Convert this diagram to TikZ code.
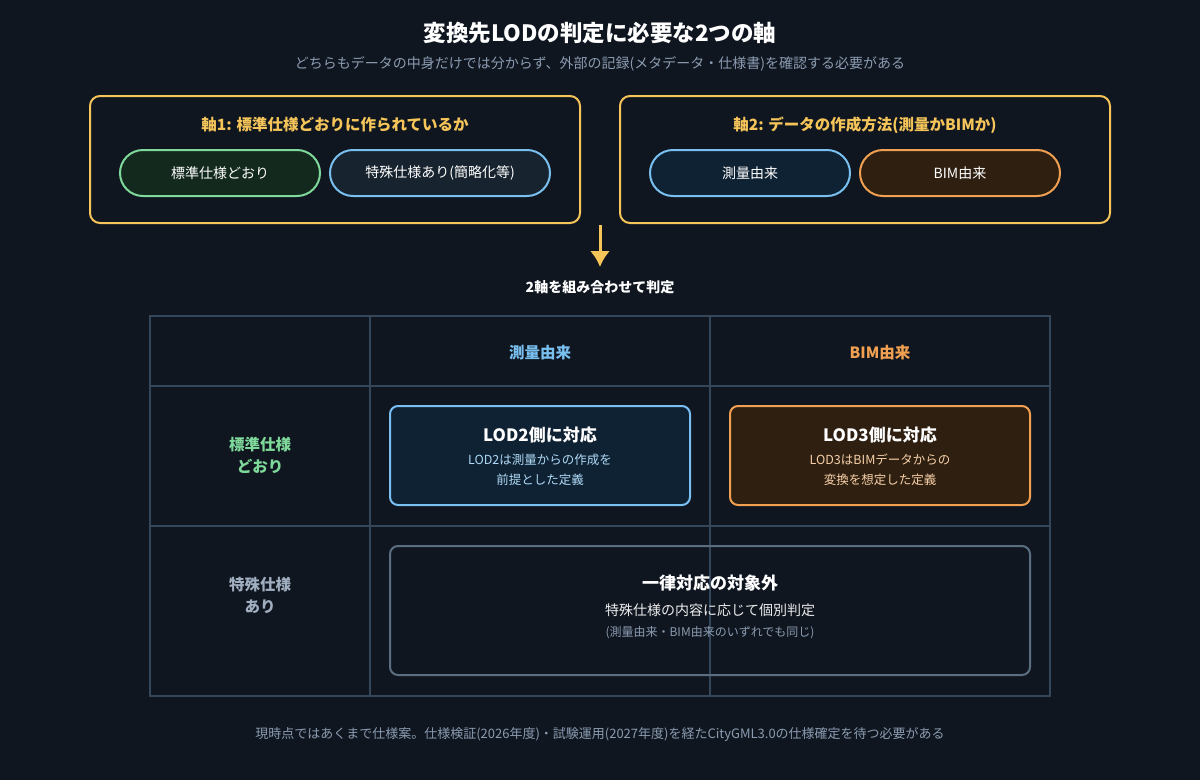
\documentclass[tikz,border=0pt]{standalone}
\usepackage{fontspec}
\setmainfont{Noto Sans CJK JP}
\usetikzlibrary{positioning,arrows.meta}
\definecolor{bgc}{HTML}{0F1620}
\definecolor{axisc}{HTML}{F5C55A}
\definecolor{greenc}{HTML}{7ED99A}
\definecolor{greenf}{HTML}{13291D}
\definecolor{bluec}{HTML}{79C0F0}
\definecolor{bluef}{HTML}{0F2233}
\definecolor{bluef2}{HTML}{17232E}
\definecolor{orangec}{HTML}{F0A050}
\definecolor{orangef}{HTML}{2E1F10}
\definecolor{gridc}{HTML}{34465A}
\definecolor{mutedc}{HTML}{8B9BB0}
\definecolor{greyc}{HTML}{5A6E80}
\definecolor{rowc}{HTML}{A0AEC0}
\tikzset{
  axisbox/.style={draw=axisc, line width=2pt, rounded corners=10pt},
  pill/.style={line width=2pt, rounded corners=23pt, text=white, font=\fontsize{14}{16}\selectfont},
  cellbox/.style={line width=2pt, rounded corners=8pt},
  hd/.style={font=\bfseries\fontsize{15.5}{18}\selectfont},
  sub/.style={font=\fontsize{12.5}{20}\selectfont, align=center}
}
\begin{document}
\begin{tikzpicture}[x=1pt, y=-1pt]
      \fill[bgc] (0,0) rectangle (1200,780);
      \useasboundingbox (0,0) rectangle (1200,780);

      \node[text=white, font=\bfseries\fontsize{22.5}{26}\selectfont] (title) at (600,33) {変換先LODの判定に必要な2つの軸};
      \node[text=mutedc, font=\fontsize{14}{16}\selectfont] (subtitle) at (600,64) {どちらもデータの中身だけでは分からず、外部の記録(メタデータ・仕様書)を確認する必要がある};

      % axis 1
      \draw[axisbox] (90,96) rectangle (580,223);
      \node[hd, text=axisc] (ax1) at (335,125) {軸1: 標準仕様どおりに作られているか};
      \draw[pill, draw=greenc, fill=greenf] (120,150) rectangle (320,196);
      \node[pill, draw=none] (p1) at (220,173) {標準仕様どおり};
      \draw[pill, draw=bluec, fill=bluef2] (330,150) rectangle (550,196);
      \node[pill, draw=none] (p2) at (440,173) {特殊仕様あり(簡略化等)};

      % axis 2
      \draw[axisbox] (620,96) rectangle (1110,223);
      \node[hd, text=axisc] (ax2) at (865,125) {軸2: データの作成方法(測量かBIMか)};
      \draw[pill, draw=bluec, fill=bluef] (650,150) rectangle (850,196);
      \node[pill, draw=none] (p3) at (750,173) {測量由来};
      \draw[pill, draw=orangec, fill=orangef] (860,150) rectangle (1060,196);
      \node[pill, draw=none] (p4) at (960,173) {BIM由来};

      \coordinate (astart) at (600,225);
      \coordinate (aend) at (600,267);
      \draw[axisc, line width=3pt, -{Latex[length=16pt,width=20pt]}] (astart) -- (aend);
      \node[text=white, font=\bfseries\fontsize{14}{16}\selectfont] (combine) at (600,287) {2軸を組み合わせて判定};

      % table
      \draw[gridc, line width=1.5pt] (150,316) rectangle (1050,696);
      \foreach \x in {370,710} \draw[gridc, line width=1.5pt] (\x,316) -- (\x,696);
      \foreach \y in {386,526} \draw[gridc, line width=1.5pt] (150,\y) -- (1050,\y);

      \node[hd, text=bluec] (hsurvey) at (540,353) {測量由来};
      \node[hd, text=orangec] (hbim) at (880,353) {BIM由来};
      \node[hd, text=greenc, align=center, font=\bfseries\fontsize{15.5}{22}\selectfont] (rstd) at (260,455) {標準仕様\\どおり};
      \node[hd, text=rowc, align=center, font=\bfseries\fontsize{15.5}{22}\selectfont] (rspec) at (260,595) {特殊仕様\\あり};

      \draw[cellbox, draw=bluec, fill=bluef] (390,406) rectangle (690,505);
      \node[text=white, font=\bfseries\fontsize{17}{20}\selectfont] (lod2) at (540,435) {LOD2側に対応};
      \node[sub, text=bluec!60!white] (lod2t) at (540,470) {LOD2は測量からの作成を\\前提とした定義};
      \draw[cellbox, draw=orangec, fill=orangef] (730,406) rectangle (1030,505);
      \node[text=white, font=\bfseries\fontsize{17}{20}\selectfont] (lod3) at (880,435) {LOD3側に対応};
      \node[sub, text=orangec!50!white] (lod3t) at (880,470) {LOD3はBIMデータからの\\変換を想定した定義};

      \draw[cellbox, draw=greyc] (390,546) rectangle (1030,675);
      \node[text=white, font=\bfseries\fontsize{17}{20}\selectfont] (outside) at (710,583) {一律対応の対象外};
      \node[text=white!85!gray, font=\fontsize{14}{16}\selectfont] (outt) at (710,610) {特殊仕様の内容に応じて個別判定};
      \node[text=mutedc, font=\fontsize{12}{14}\selectfont] (outn) at (710,633) {(測量由来・BIM由来のいずれでも同じ)};

      \node[text=mutedc, font=\fontsize{13}{15}\selectfont] (footer) at (600,735) {現時点ではあくまで仕様案。仕様検証(2026年度)・試験運用(2027年度)を経たCityGML3.0の仕様確定を待つ必要がある};
\end{tikzpicture}
\end{document}
